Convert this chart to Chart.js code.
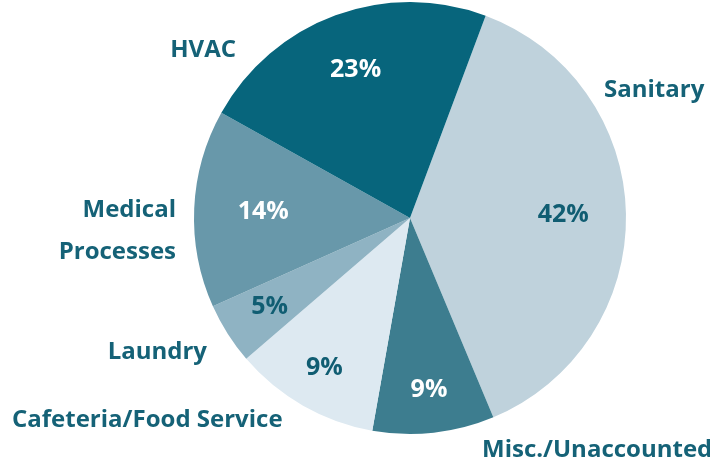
<!DOCTYPE html>
<html lang="en">
<head>
    <meta charset="UTF-8">
    <title>Water use breakdown</title>
    <script src="https://cdn.jsdelivr.net/npm/chart.js"></script>
    <style>
        html, body { margin: 0; padding: 0; background: #fff; }
        canvas { display: block; }
    </style>
</head>
<body>
    <canvas id="pieChart" width="710" height="467"></canvas>

    <script>
        // categories, clockwise starting at Sanitary
        const categories = ["Sanitary", "Misc./Unaccounted", "Cafeteria/Food Service", "Laundry", "Medical Processes", "HVAC"];
        // slice sizes as drawn (share of the circle)
        const shares = [38.0, 9.1, 10.9, 4.6, 14.8, 22.6];
        // percentages printed on the slices
        const printed = ["42%", "9%", "9%", "5%", "14%", "23%"];

        const sliceColors = ["#bfd2dc", "#3d7d8f", "#dde9f1", "#8fb3c3", "#6898aa", "#07657c"];
        const pctColors = ["#105d72", "#ffffff", "#105d72", "#105d72", "#ffffff", "#ffffff"];
        const pctRadius = [0.71, 0.80, 0.80, 0.77, 0.68, 0.73];
        const textColor = "#156277";

        // outer category labels: offset from pie centre, alignment, lines
        const outer = [
            { lines: ["Sanitary"], dx: 194, dy: -128, align: "left" },
            { lines: ["Misc./Unaccounted"], dx: 72, dy: 232, align: "left" },
            { lines: ["Cafeteria/Food Service"], dx: -398, dy: 202, align: "left" },
            { lines: ["Laundry"], dx: -203, dy: 134, align: "right" },
            { lines: ["Medical", "Processes"], dx: -234, dy: 13, align: "right" },
            { lines: ["HVAC"], dx: -174, dy: -168, align: "right" }
        ];

        const labelPlugin = {
            id: "sliceLabels",
            afterDatasetsDraw(chart) {
                const ctx = chart.ctx;
                const arcs = chart.getDatasetMeta(0).data;
                ctx.save();
                ctx.textBaseline = "middle";
                arcs.forEach((arc, i) => {
                    const mid = (arc.startAngle + arc.endAngle) / 2;
                    const r = arc.outerRadius * pctRadius[i];
                    ctx.font = "bold 25px 'Open Sans'";
                    ctx.textAlign = "center";
                    ctx.fillStyle = pctColors[i];
                    ctx.fillText(printed[i], arc.x + Math.cos(mid) * r, arc.y + Math.sin(mid) * r);

                    const o = outer[i];
                    ctx.font = "bold 24px 'Open Sans'";
                    ctx.textAlign = o.align;
                    ctx.fillStyle = textColor;
                    o.lines.forEach((line, k) => {
                        ctx.fillText(line, arc.x + o.dx, arc.y + o.dy + (k - (o.lines.length - 1) / 2) * 42);
                    });
                });
                ctx.restore();
            }
        };

        new Chart(document.getElementById("pieChart").getContext("2d"), {
            type: "pie",
            data: {
                labels: categories,
                datasets: [{
                    data: shares,
                    backgroundColor: sliceColors,
                    borderWidth: 0
                }]
            },
            options: {
                responsive: false,
                animation: false,
                rotation: 20.5,
                layout: { padding: { left: 140, right: 30, top: 2, bottom: 33 } },
                plugins: {
                    legend: { display: false },
                    tooltip: { enabled: false }
                }
            },
            plugins: [labelPlugin]
        });
    </script>
</body>
</html>
